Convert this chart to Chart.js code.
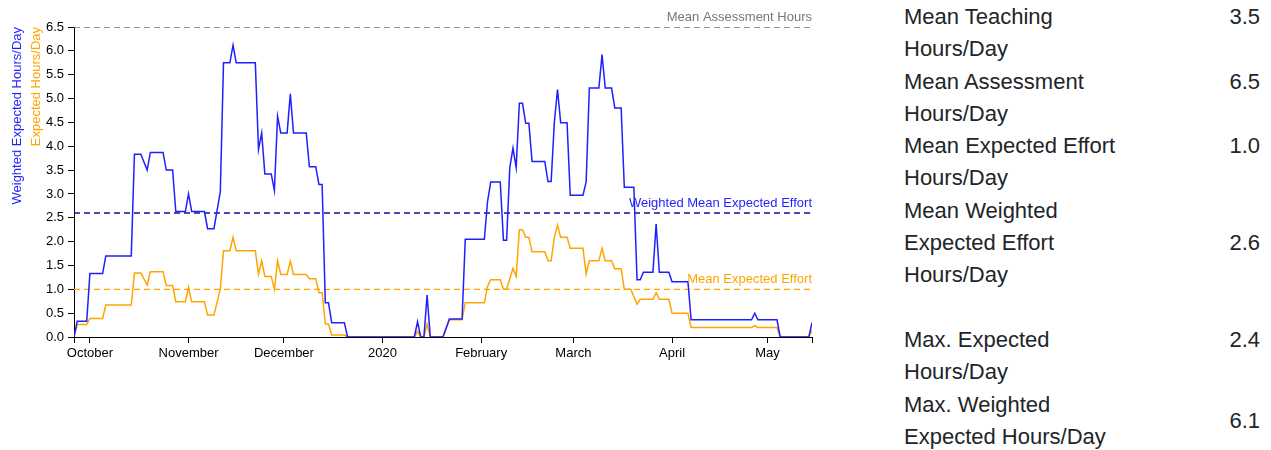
<!DOCTYPE html>
<html>
<head>
<meta charset="utf-8">
<script src="https://cdn.jsdelivr.net/npm/chart.js@4/dist/chart.umd.min.js"></script>
<style>
    html, body { margin: 0; padding: 0; background: #fff; }
    body { width: 1271px; height: 450px; position: relative; overflow: hidden; }
    #chart-wrap { position: absolute; left: 0; top: 0; width: 880px; height: 450px; }
    #stats {
        position: absolute; left: 904px; top: 1px; width: 356px;
        font-family: 'Liberation Sans', Arial, sans-serif; font-size: 22px;
        color: #212529; line-height: 32.3px;
    }
    #stats .row { display: flex; justify-content: space-between; }
    #stats .gap { height: 32.3px; }
    #stats .top { align-self: flex-start; }
    #stats .mid { align-self: center; }
</style>
</head>
<body>
<div id="chart-wrap"><canvas id="effort-chart" width="880" height="450"></canvas></div>

<div id="stats">
    <div class="row"><div>Mean Teaching<br>Hours/Day</div><div class="top">3.5</div></div>
    <div class="row"><div>Mean Assessment<br>Hours/Day</div><div class="top">6.5</div></div>
    <div class="row"><div>Mean Expected Effort<br>Hours/Day</div><div class="top">1.0</div></div>
    <div class="row"><div>Mean Weighted<br>Expected Effort<br>Hours/Day</div><div class="mid">2.6</div></div>
    <div class="gap"></div>
    <div class="row"><div>Max. Expected<br>Hours/Day</div><div class="top">2.4</div></div>
    <div class="row"><div>Max. Weighted<br>Expected Hours/Day</div><div class="mid">6.1</div></div>
</div>

<script>
// x values are days since 1 Oct 2019
const X_MIN = -5;   // 26 Sep 2019
const X_MAX = 227;  // 15 May 2020

const monthDays = [0, 31, 61, 92, 123, 152, 183, 213];
const monthLabels = ['October', 'November', 'December', '2020', 'February', 'March', 'April', 'May'];

const weightedDays = [-5, -4, -1, 0, 4, 5, 13, 14, 16, 18, 19, 23, 24, 26, 27, 30, 31, 32, 36, 37, 39, 41, 42, 44, 45, 46,
    52, 53, 54, 55, 57, 58, 59, 60, 62, 63, 64, 68, 69, 71, 72, 73, 74, 75, 76, 80, 81,
    102, 103, 104, 105, 106, 107, 111, 113, 117, 118, 124, 125, 126, 129, 130, 131, 132, 133, 134, 135, 136, 137, 138, 139,
    143, 144, 145, 146, 147, 148, 150, 151, 155, 156, 157, 160, 161, 162, 164, 165, 167, 168, 171, 172, 173, 174,
    177, 178, 179, 182, 183, 188, 189, 208, 209, 210, 216, 217, 226, 227];
const weightedHours = [0, 0.33, 0.33, 1.33, 1.33, 1.7, 1.7, 3.83, 3.83, 3.5, 3.87, 3.87, 3.5, 3.5, 2.63, 2.63, 3.0, 2.63, 2.63, 2.27, 2.27, 3.05, 5.75, 5.75, 6.12, 5.75,
    5.75, 3.93, 4.28, 3.42, 3.42, 3.07, 4.63, 4.28, 4.28, 5.1, 4.28, 4.28, 3.57, 3.57, 3.2, 3.2, 0.72, 0.72, 0.3, 0.3, 0,
    0, 0.32, 0, 0, 0.88, 0, 0, 0.38, 0.38, 2.05, 2.05, 2.84, 3.25, 3.25, 2.03, 2.03, 3.55, 3.96, 3.55, 4.9, 4.9, 4.48, 4.48, 3.68,
    3.68, 3.26, 3.26, 4.5, 5.19, 4.49, 4.49, 2.97, 2.97, 3.25, 5.22, 5.22, 5.92, 5.22, 5.22, 4.8, 4.8, 3.14, 3.14, 1.2, 1.2, 1.36,
    1.36, 2.37, 1.36, 1.36, 1.16, 1.16, 0.36, 0.36, 0.5, 0.36, 0.36, 0, 0, 0.3];

const expectedDays = [-5, -4, -1, 0, 4, 5, 13, 14, 16, 18, 19, 23, 24, 26, 27, 30, 31, 32, 36, 37, 39, 41, 42, 44, 45, 46,
    52, 53, 54, 55, 57, 58, 59, 60, 62, 63, 64, 68, 69, 71, 72, 73, 74, 75, 76, 80, 81,
    102, 103, 104, 105, 106, 107, 111, 113, 117, 118, 124, 125, 126, 129, 130, 131, 132, 133, 134, 135, 136, 137, 138, 139,
    143, 144, 145, 146, 147, 148, 150, 151, 155, 156, 157, 160, 161, 162, 164, 165, 167, 168, 170, 172, 173,
    177, 178, 179, 182, 183, 188, 189, 208, 209, 210, 216, 217, 226, 227];
const expectedHours = [0, 0.26, 0.26, 0.39, 0.39, 0.67, 0.67, 1.34, 1.34, 1.09, 1.37, 1.37, 1.08, 1.08, 0.74, 0.74, 1.04, 0.74, 0.74, 0.46, 0.46, 1.01, 1.81, 1.81, 2.09, 1.81,
    1.81, 1.32, 1.6, 1.27, 1.27, 1.0, 1.6, 1.31, 1.31, 1.59, 1.31, 1.31, 1.22, 1.22, 0.93, 0.93, 0.27, 0.27, 0.04, 0.04, 0,
    0, 0.12, 0, 0, 0.27, 0, 0, 0.36, 0.36, 0.72, 0.72, 1.06, 1.2, 1.2, 1.0, 1.0, 1.22, 1.44, 1.27, 2.25, 2.25, 2.09, 2.09, 1.79,
    1.79, 1.6, 1.6, 2.09, 2.35, 2.09, 2.09, 1.86, 1.86, 1.32, 1.6, 1.6, 1.86, 1.6, 1.6, 1.43, 1.43, 1.0, 1.0, 0.69, 0.79,
    0.79, 0.93, 0.79, 0.79, 0.5, 0.5, 0.2, 0.2, 0.24, 0.2, 0.2, 0, 0, 0.14];

const refLabels = ['Mean Assessment Hours', 'Weighted Mean Expected Effort', 'Mean Expected Effort'];
const refValues = [6.5, 2.6, 1.0];
const refColors = ['#777777', '#10109a', '#ffa500'];

const FONT = "'Liberation Sans', Arial, Helvetica, sans-serif";
const BLUE = '#1f1fff';
const ORANGE = '#ffa500';

const toPoints = (xs, ys) => xs.map((x, i) => ({ x, y: ys[i] }));

const refDatasets = refValues.map((v, i) => ({
    label: refLabels[i],
    data: [{ x: X_MIN, y: v }, { x: X_MAX, y: v }],
    borderColor: refColors[i],
    borderWidth: 1.3,
    borderDash: [6, 4],
    pointRadius: 0,
    order: 2,
}));

// y-axis titles and reference labels, drawn in two colours like the original
const textPlugin = {
    id: 'effortText',
    afterDraw(chart) {
        const { ctx, chartArea, scales } = chart;
        ctx.save();
        ctx.font = '13px ' + FONT;

        // rotated axis titles
        const titles = [['Weighted Expected Hours/Day', BLUE, 17.5], ['Expected Hours/Day', ORANGE, 36]];
        titles.forEach(([txt, col, x]) => {
            ctx.save();
            ctx.translate(x, chartArea.top);
            ctx.rotate(-Math.PI / 2);
            ctx.textAlign = 'right';
            ctx.textBaseline = 'middle';
            ctx.fillStyle = col;
            ctx.fillText(txt, 0, 0);
            ctx.restore();
        });

        // reference line labels
        ctx.textAlign = 'right';
        ctx.textBaseline = 'alphabetic';
        const labelColors = ['#777777', BLUE, ORANGE];
        refValues.forEach((v, i) => {
            ctx.fillStyle = labelColors[i];
            ctx.fillText(refLabels[i], chartArea.right, scales.y.getPixelForValue(v) - 6);
        });
        ctx.restore();
    },
};

new Chart(document.getElementById('effort-chart'), {
    type: 'line',
    data: {
        datasets: [
            {
                label: 'Weighted Expected Hours/Day',
                data: toPoints(weightedDays, weightedHours),
                borderColor: BLUE,
                borderWidth: 1.5,
                pointRadius: 0,
                tension: 0,
                order: 0,
            },
            {
                label: 'Expected Hours/Day',
                data: toPoints(expectedDays, expectedHours),
                borderColor: ORANGE,
                borderWidth: 1.5,
                pointRadius: 0,
                tension: 0,
                order: 1,
            },
            ...refDatasets,
        ],
    },
    options: {
        responsive: false,
        animation: false,
        events: [],
        layout: { padding: { top: 27, right: 68, left: 0, bottom: 0 } },
        plugins: { legend: { display: false }, tooltip: { enabled: false } },
        scales: {
            x: {
                type: 'linear',
                min: X_MIN,
                max: X_MAX,
                afterBuildTicks: scale => {
                    scale.ticks = [X_MIN, ...monthDays, X_MAX].map(value => ({ value }));
                },
                afterFit: scale => { scale.height = 113; },
                ticks: {
                    autoSkip: false,
                    maxRotation: 0,
                    padding: 3,
                    color: '#000',
                    font: { family: FONT, size: 13 },
                    callback: v => {
                        const i = monthDays.indexOf(v);
                        return i >= 0 ? monthLabels[i] : '';
                    },
                },
                grid: { drawOnChartArea: false, drawTicks: true, tickLength: 6, color: '#000' },
                border: { color: '#000', width: 1 },
            },
            y: {
                min: 0,
                max: 6.5,
                afterFit: scale => { scale.width = 74; },
                ticks: {
                    stepSize: 0.5,
                    padding: 4,
                    color: '#000',
                    font: { family: FONT, size: 13 },
                    callback: v => v.toFixed(1),
                },
                grid: { drawOnChartArea: false, drawTicks: true, tickLength: 6, color: '#000' },
                border: { color: '#000', width: 1 },
            },
        },
    },
    plugins: [textPlugin],
});
</script>
</body>
</html>
